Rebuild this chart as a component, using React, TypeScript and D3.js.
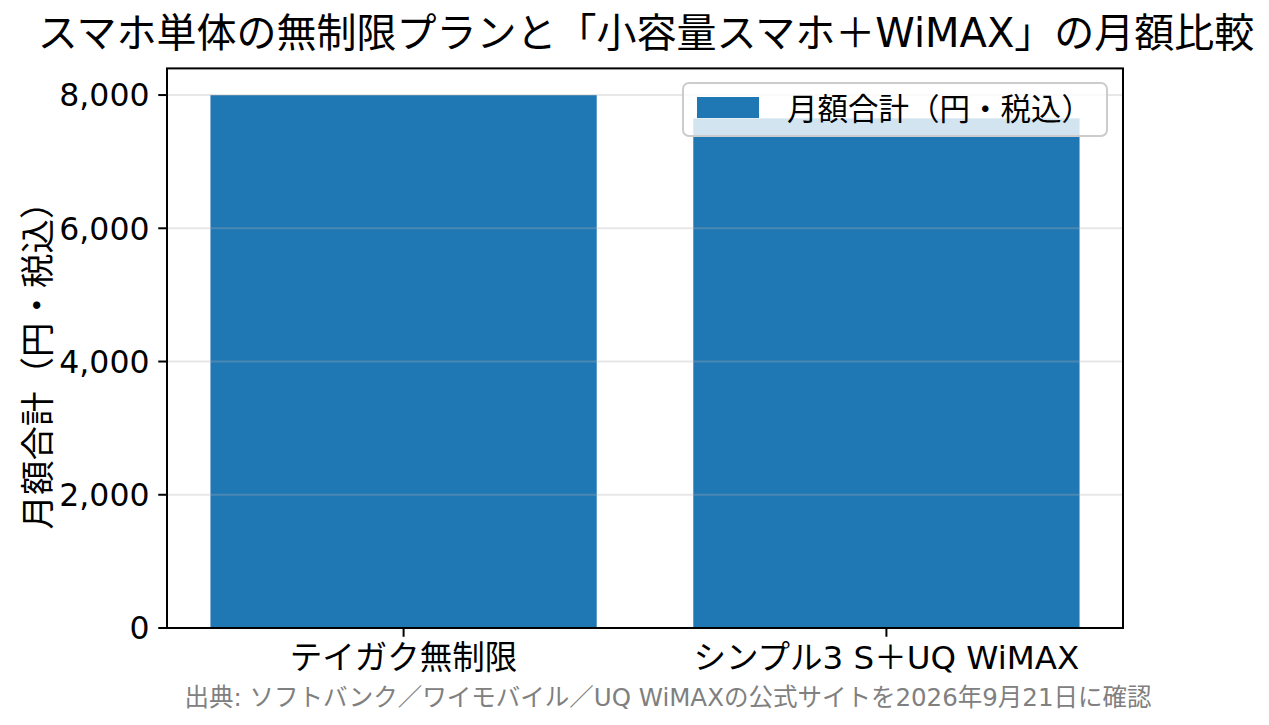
import * as d3 from 'd3';

const categories = ['テイガク無制限', 'シンプル3 S＋UQ WiMAX'];
const monthlyTotals = [8000, 7650];
const yTicks = [0, 2000, 4000, 6000, 8000];
const seriesName = '月額合計（円・税込）';
const titleText = 'スマホ単体の無制限プランと「小容量スマホ＋WiMAX」の月額比較';
const yLabelText = '月額合計（円・税込）';
const sourceText = '出典: ソフトバンク／ワイモバイル／UQ WiMAXの公式サイトを2026年9月21日に確認';

const WIDTH = 1269;
const HEIGHT = 725;
const MARGIN = { top: 68.4, right: 146, bottom: 97, left: 167 };
// latin glyphs come from DejaVu, Japanese falls back to Noto CJK
const FONT = '"DejaVu Sans", "Noto Sans CJK JP", sans-serif';
const BAR_COLOR = '#1f77b4';

export default function App() {
  const boundsWidth = WIDTH - MARGIN.left - MARGIN.right;
  const boundsHeight = HEIGHT - MARGIN.top - MARGIN.bottom;

  // matplotlib-like: bars width 0.8 at 0,1 with 5% margins
  const xScale = d3.scaleLinear().domain([-0.49, 1.49]).range([0, boundsWidth]);
  const yScale = d3
    .scaleLinear()
    .domain([0, (d3.max(monthlyTotals) || 8000) * 1.05])
    .range([boundsHeight, 0]);

  const barW = xScale(0.8) - xScale(0);

  const bars = categories.map((c, i) => (
    <rect
      key={c}
      x={xScale(i) - barW / 2}
      y={yScale(monthlyTotals[i])}
      width={barW}
      height={boundsHeight - yScale(monthlyTotals[i])}
      fill={BAR_COLOR}
    />
  ));

  const grid = yTicks.map((t) => (
    <line
      key={`g-${t}`}
      x1={0}
      x2={boundsWidth}
      y1={yScale(t)}
      y2={yScale(t)}
      stroke="#b0b0b0"
      strokeOpacity={0.3}
      strokeWidth={2}
    />
  ));

  const yAxis = yTicks.map((t) => (
    <g key={`y-${t}`} transform={`translate(0,${yScale(t)})`}>
      <line x1={-8.75} x2={0} stroke="#000" strokeWidth={2} />
      <text
        x={-17.5}
        dy="0.36em"
        textAnchor="end"
        fontSize={31.5}
        fontFamily={FONT}
        fill="#000"
      >
        {d3.format(',')(t)}
      </text>
    </g>
  ));

  const xAxis = categories.map((c, i) => (
    <g key={`x-${c}`} transform={`translate(${xScale(i)},${boundsHeight})`}>
      <line y1={0} y2={8.75} stroke="#000" strokeWidth={2} />
      <text
        y={41}
        textAnchor="middle"
        fontSize={32.5}
        fontFamily={FONT}
        fill="#000"
      >
        {c}
      </text>
    </g>
  ));

  // legend in upper right
  const legendX = 683 - MARGIN.left;
  const legendY = 83 - MARGIN.top;

  return (
    <svg
      width={WIDTH}
      height={HEIGHT}
      style={{ position: 'absolute', left: 0, top: 0, background: '#fff' }}
    >
      <rect width={WIDTH} height={HEIGHT} fill="#fff" />
      <text
        x={646}
        y={47}
        textAnchor="middle"
        fontSize={40}
        fontFamily={FONT}
        fill="#000"
      >
        {titleText}
      </text>
      <g transform={`translate(${MARGIN.left},${MARGIN.top})`}>
        {bars}
        {grid}
        <rect
          x={0}
          y={0}
          width={boundsWidth}
          height={boundsHeight}
          fill="none"
          stroke="#000"
          strokeWidth={2}
        />
        {yAxis}
        {xAxis}
        <g transform={`translate(${legendX},${legendY})`}>
          <rect
            width={424}
            height={53}
            rx={6}
            fill="#fff"
            fillOpacity={0.8}
            stroke="#cccccc"
            strokeWidth={2}
          />
          <rect x={14} y={14} width={62} height={21} fill={BAR_COLOR} />
          <text x={104} y={37} fontSize={30.5} fontFamily={FONT} fill="#000">
            {seriesName}
          </text>
        </g>
      </g>
      <text
        transform={`translate(38,357) rotate(-90)`}
        textAnchor="middle"
        dominantBaseline="central"
        fontSize={34.5}
        fontFamily={FONT}
        fill="#000"
      >
        {yLabelText}
      </text>
      <text
        x={668}
        y={706}
        textAnchor="middle"
        fontSize={24.5}
        fontFamily={FONT}
        fill="#808080"
      >
        {sourceText}
      </text>
    </svg>
  );
}
